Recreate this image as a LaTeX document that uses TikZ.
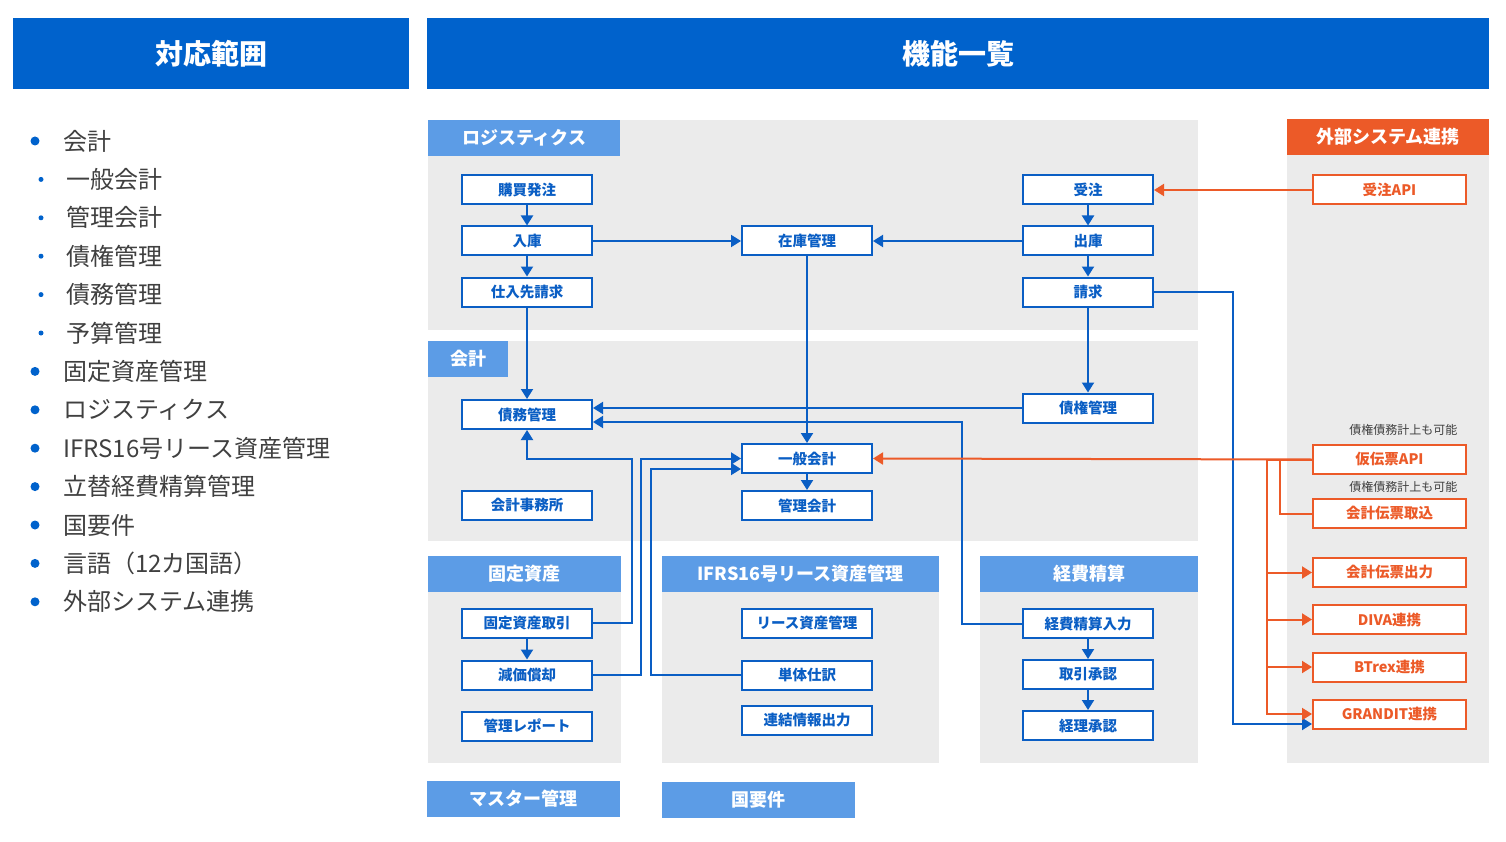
\documentclass[tikz,border=0pt]{standalone}
\usepackage{fontspec}
\setmainfont{Noto Sans CJK JP}
\usetikzlibrary{arrows.meta}

\definecolor{headblue}{RGB}{0,98,204}
\definecolor{lineblue}{RGB}{10,94,196}
\definecolor{titleblue}{RGB}{92,156,230}
\definecolor{panelgray}{RGB}{235,235,235}
\definecolor{extorange}{RGB}{236,90,40}
\definecolor{listgray}{RGB}{64,64,64}

\tikzset{
    head/.style={fill=headblue, text=white, anchor=north west, inner sep=0pt,
        font=\fontsize{28}{30}\selectfont\bfseries},
    title/.style={fill=titleblue, text=white, anchor=north west, inner sep=0pt,
        minimum height=35.5pt, font=\fontsize{18}{20}\selectfont\bfseries},
    func/.style={draw=lineblue, line width=2pt, fill=white, text=lineblue,
        minimum width=130pt, minimum height=29pt, inner sep=0pt,
        font=\fontsize{14.5}{16}\selectfont\bfseries},
    ext/.style={func, draw=extorange, text=extorange, minimum width=153pt},
    note/.style={anchor=east, text=listgray, font=\fontsize{12}{14}\selectfont},
    flow/.style={draw=lineblue, line width=2pt, -{Triangle[length=10pt,width=12pt]}},
    plain/.style={draw=lineblue, line width=2pt},
    oflow/.style={flow, draw=extorange},
    oplain/.style={plain, draw=extorange}
}

\begin{document}
\begin{tikzpicture}[x=1pt, y=-1pt, node distance=51pt]
    \useasboundingbox[fill=white] (0,0) rectangle (1506,842);

    % headers
    \node[head, minimum width=396pt, minimum height=71pt] (hscope) at (13,18) {対応範囲};
    \node[head, minimum width=1062pt, minimum height=71pt] (hfunc) at (427,18) {機能一覧};

    % left list
    \foreach \t/\s [count=\i] in {会計/0, 一般会計/1, 管理会計/1, 債権管理/1, 債務管理/1, 予算管理/1,
        固定資産管理/0, ロジスティクス/0, IFRS16号リース資産管理/0, 立替経費精算管理/0,
        国要件/0, 言語（12カ国語）/0, 外部システム連携/0} {
        \pgfmathsetmacro{\yy}{141+(\i-1)*38.4}
        \ifnum\s=0
            \fill[headblue] (35,\yy) circle (4.5pt);
            \node[anchor=west, inner sep=0pt, text=listgray,
                font=\fontsize{24}{26}\selectfont] (item\i) at (63,\yy) {\t};
        \else
            \fill[headblue] (41,\yy) circle (2.5pt);
            \node[anchor=west, inner sep=0pt, text=listgray,
                font=\fontsize{24}{26}\selectfont] (item\i) at (66,\yy) {\t};
        \fi
    }

    % panels
    \fill[panelgray] (428,120) rectangle (1198,330);
    \fill[panelgray] (428,341) rectangle (1198,541);
    \fill[panelgray] (428,556) rectangle (621,763);
    \fill[panelgray] (662,556) rectangle (939,763);
    \fill[panelgray] (980,556) rectangle (1198,763);
    \fill[panelgray] (1287,119) rectangle (1489,763);

    % panel titles
    \node[title, minimum width=192pt] (tlog) at (428,120) {ロジスティクス};
    \node[title, minimum width=80pt] (tacc) at (428,341) {会計};
    \node[title, minimum width=193pt] (tfix) at (428,556) {固定資産};
    \node[title, minimum width=277pt] (tifrs) at (662,556) {IFRS16号リース資産管理};
    \node[title, minimum width=218pt] (texp) at (980,556) {経費精算};
    \node[title, minimum width=202pt, fill=extorange] (text) at (1287,119) {外部システム連携};
    \node[title, minimum width=193pt] (tmaster) at (427,781) {マスター管理};
    \node[title, minimum width=193pt] (tcountry) at (662,782) {国要件};

    % logistics
    \node[func] (po) at (527,190) {購買発注};
    \node[func, below of=po] (recv) {入庫};
    \node[func, below of=recv] (vinv) {仕入先請求};
    \node[func] (stock) at (807,241) {在庫管理};
    \node[func] (order) at (1088,190) {受注};
    \node[func, below of=order] (ship) {出庫};
    \node[func, below of=ship] (bill) {請求};

    % accounting
    \node[func] (payable) at (527,414.5) {債務管理};
    \node[func] (office) at (527,505) {会計事務所};
    \node[func] (gl) at (807,458.5) {一般会計};
    \node[func] (mgmt) at (807,505.5) {管理会計};
    \node[func] (receivable) at (1088,408) {債権管理};

    % fixed assets
    \node[func] (fixtr) at (527,623) {固定資産取引};
    \node[func, node distance=52pt, below of=fixtr] (depr) {減価償却};
    \node[func, node distance=51pt, below of=depr] (report) {管理レポート};

    % IFRS16
    \node[func] (lease) at (807,623) {リース資産管理};
    \node[func] (single) at (807,675) {単体仕訳};
    \node[func] (consol) at (807,720) {連結情報出力};

    % expenses
    \node[func] (expin) at (1088,623.5) {経費精算入力};
    \node[func, below of=expin] (trapp) {取引承認};
    \node[func, below of=trapp] (acapp) {経理承認};

    % external systems
    \node[ext] (orderapi) at (1389.5,190) {受注API};
    \node[ext] (tmpapi) at (1389.5,459.5) {仮伝票API};
    \node[ext] (vimport) at (1389.5,513.5) {会計伝票取込};
    \node[ext] (vexport) at (1389.5,572.5) {会計伝票出力};
    \node[ext] (diva) at (1389.5,619.5) {DIVA連携};
    \node[ext] (btrex) at (1389.5,667) {BTrex連携};
    \node[ext] (grandit) at (1389.5,714) {GRANDIT連携};
    \node[note] (note1) at (1461,430) {債権債務計上も可能};
    \node[note] (note2) at (1461,487) {債権債務計上も可能};

    % blue connectors
    \draw[flow] (po) -- (recv);
    \draw[flow] (recv) -- (vinv);
    \draw[flow] (recv.east) -- (stock.west);
    \draw[flow] (ship.west) -- (stock.east);
    \draw[flow] (order) -- (ship);
    \draw[flow] (ship) -- (bill);
    \draw[flow] (vinv) -- (payable);
    \draw[flow] (stock) -- (gl);
    \draw[flow] (bill) -- (receivable);
    \draw[flow] (gl) -- (mgmt);
    \draw[flow] (fixtr) -- (depr);
    \draw[flow] (expin) -- (trapp);
    \draw[flow] (trapp) -- (acapp);
    \draw[flow] (receivable.west) -- (receivable.west -| payable.east);
    \draw[flow] (expin.west) -- ++(-60,0) |- ([yshift=-7.5pt]payable.east);
    \draw[flow] (fixtr.east) -- ++(39,0) -- ++(0,-164) -| (payable.south);
    \draw[flow] (depr.east) -- ++(48,0) |- (gl.west);
    \draw[flow] (single.west) -- ++(-90,0) |- ([yshift=-10.5pt]gl.west);
    \draw[flow] (bill.east) -- ++(79,0) |- ([yshift=-10pt]grandit.west);

    % orange connectors
    \draw[oflow] (orderapi.west) -- (order.east);
    \draw[oflow] (tmpapi.west) -- (gl.east);
    \draw[oplain] (vimport.west) -- ++(-32,0) |- (tmpapi.west);
    \foreach \n in {vexport, diva, btrex, grandit}
        \draw[oflow] (tmpapi.west) -- ++(-45,0) |- (\n.west);
\end{tikzpicture}
\end{document}
